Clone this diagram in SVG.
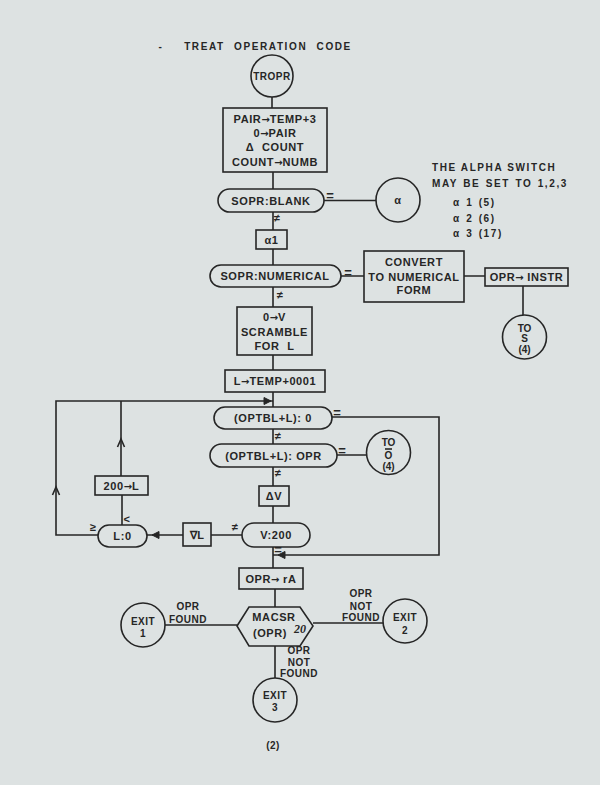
<svg xmlns="http://www.w3.org/2000/svg" width="600" height="785" viewBox="0 0 600 785">
<style>
.bg{fill:#dde2e2}
.s{fill:none;stroke:#262626;stroke-width:1.6}
.n{fill:#dde2e2;stroke:#262626;stroke-width:1.6}
text{font-family:"Liberation Sans",Arial,sans-serif;font-weight:bold;fill:#262626;text-anchor:middle}
.t{font-size:11px;letter-spacing:0.6px}
.m{font-size:10px;letter-spacing:0.5px}
.sm{font-size:10px}
.h{font-size:10px;letter-spacing:1.6px}
.q{font-size:13px}
.l{text-anchor:start}
.ar{font-family:"DejaVu Sans",sans-serif;font-size:10px;letter-spacing:0}
.ah{fill:#262626;stroke:#262626;stroke-width:1}
</style>
<rect class="bg" x="0" y="0" width="600" height="785"/>

<g id="title">
<text class="h" x="161" y="50">-</text>
<text class="h" x="268" y="50" word-spacing="5">TREAT OPERATION CODE</text>
</g>

<g id="connectors">
<path class="s" d="M272 97V108M273 172V189M324 200.5H376M273 212V230M273 249V265M341 276H364M464 276H485M523 286V315M273 287V307M273 355V370M273 392V407M332 417H439V555H273M273 429V444M337 455H367M273 467V486M273 506V523M242 535H211M183 535H147M122 525V495M121 476V401M98 535H56V401H273M273 547V568M275 589V607M165 625H237M313 623H383M275 646V678"/>
<path class="ah" d="M264 397.5L271 401L264 404.5Z"/>
<path class="ah" d="M285 551.5L278 555L285 558.5Z"/>
<path class="ah" d="M159 531.5L152 535L159 538.5Z"/>
<path class="s" d="M117.5 447L121 439L124.5 447M52.5 495L56 487L59.5 495"/>
<text class="q" x="330" y="200">=</text>
<text class="t" x="277" y="222">≠</text>
<text class="q" x="348" y="277">=</text>
<text class="t" x="280" y="299">≠</text>
<text class="q" x="337" y="417">=</text>
<text class="t" x="278" y="440">≠</text>
<text class="q" x="342" y="455">=</text>
<text class="t" x="278" y="477">≠</text>
<text class="t" x="235" y="531">≠</text>
<text class="q" x="278" y="554">=</text>
<text class="t" x="127" y="523">&lt;</text>
<text class="t" x="93" y="531">≥</text>
<text class="m" x="188" y="610">OPR</text>
<text class="m" x="188" y="623">FOUND</text>
<text class="m" x="361" y="597">OPR</text>
<text class="m" x="361" y="610">NOT</text>
<text class="m" x="361" y="621">FOUND</text>
<text class="m" x="299" y="654">OPR</text>
<text class="m" x="299" y="665.5">NOT</text>
<text class="m" x="299" y="676.5">FOUND</text>
</g>

<g id="tropr">
<circle class="n" cx="272" cy="76" r="21"/>
<text class="m" x="272" y="80">TROPR</text>
</g>

<g id="init">
<rect class="n" x="223" y="108" width="104" height="64"/>
<text class="t" x="275" y="123">PAIR<tspan class="ar">→</tspan>TEMP+3</text>
<text class="t" x="275" y="137">0<tspan class="ar">→</tspan>PAIR</text>
<text class="t" x="275" y="151" word-spacing="4">Δ COUNT</text>
<text class="t" x="275" y="166">COUNT<tspan class="ar">→</tspan>NUMB</text>
</g>

<g id="sopr-blank">
<rect class="n" x="218" y="189" width="106" height="23" rx="11.5"/>
<text class="t" x="271" y="204.5">SOPR:BLANK</text>
</g>

<g id="alpha">
<circle class="n" cx="398" cy="200" r="22"/>
<text class="t" x="398" y="204" font-size="13px">α</text>
</g>

<g id="alpha-note">
<text class="h l" x="432" y="171">THE ALPHA SWITCH</text>
<text class="h l" x="432" y="187" word-spacing="1">MAY BE SET TO 1,2,3</text>
<text class="h l" x="453" y="206" word-spacing="1">α 1 (5)</text>
<text class="h l" x="453" y="222" word-spacing="1">α 2 (6)</text>
<text class="h l" x="453" y="237" word-spacing="1">α 3 (17)</text>
</g>

<g id="alpha1">
<rect class="n" x="256" y="230" width="31" height="19"/>
<text class="t" x="271.5" y="243.5">α1</text>
</g>

<g id="sopr-numerical">
<rect class="n" x="210" y="265" width="131" height="22" rx="11"/>
<text class="t" x="275" y="280">SOPR:NUMERICAL</text>
</g>

<g id="convert">
<rect class="n" x="364" y="251" width="100" height="51"/>
<text class="t" x="414" y="265.5">CONVERT</text>
<text class="t" x="414" y="280.5">TO NUMERICAL</text>
<text class="t" x="414" y="293.5">FORM</text>
</g>

<g id="opr-instr">
<rect class="n" x="485" y="268" width="83" height="18"/>
<text class="t" x="526.5" y="281">OPR<tspan class="ar">→</tspan> INSTR</text>
</g>

<g id="to-s4">
<circle class="n" cx="524.5" cy="337" r="22"/>
<text class="sm" x="524.5" y="332">TO</text>
<text class="sm" x="524.5" y="342">S</text>
<text class="sm" x="524.5" y="353">(4)</text>
</g>

<g id="scramble">
<rect class="n" x="237" y="307" width="75" height="48"/>
<text class="t" x="274.5" y="320.5">0<tspan class="ar">→</tspan>V</text>
<text class="t" x="274.5" y="336">SCRAMBLE</text>
<text class="t" x="274.5" y="349.5" word-spacing="4">FOR L</text>
</g>

<g id="l-temp">
<rect class="n" x="225" y="370" width="100" height="22"/>
<text class="t" x="275" y="385">L<tspan class="ar">→</tspan>TEMP+0001</text>
</g>

<g id="optbl-0">
<rect class="n" x="214" y="407" width="118" height="22" rx="11"/>
<text class="t" x="273" y="422">(OPTBL+L): 0</text>
</g>

<g id="optbl-opr">
<rect class="n" x="210" y="444" width="127" height="23" rx="11.5"/>
<text class="t" x="273.5" y="459.5">(OPTBL+L): OPR</text>
</g>

<g id="to-o4">
<circle class="n" cx="388.5" cy="452.5" r="22"/>
<text class="sm" x="388.5" y="445.5">TO</text>
<text class="sm" x="388.5" y="458.5">O</text>
<path class="s" d="M385 449H392" stroke-width="1.2"/>
<text class="sm" x="388.5" y="469.5">(4)</text>
</g>

<g id="delta-v">
<rect class="n" x="259" y="486" width="30" height="20"/>
<text class="t" x="274" y="500">ΔV</text>
</g>

<g id="v-200">
<rect class="n" x="242" y="523" width="68" height="24" rx="12"/>
<text class="t" x="276" y="539">V:200</text>
</g>

<g id="nabla-l">
<rect class="n" x="183" y="523" width="28" height="23"/>
<text class="t" x="197" y="539">∇L</text>
</g>

<g id="l-0">
<rect class="n" x="98" y="525" width="49" height="22" rx="11"/>
<text class="t" x="122.5" y="540">L:0</text>
</g>

<g id="l-200">
<rect class="n" x="95" y="476" width="53" height="19"/>
<text class="t" x="121.5" y="490">200<tspan class="ar">→</tspan>L</text>
</g>

<g id="opr-ra">
<rect class="n" x="239" y="568" width="64" height="21"/>
<text class="t" x="271" y="583">OPR<tspan class="ar">→</tspan> rA</text>
</g>

<g id="macsr">
<polygon class="n" points="237,626 249,607 300,607 313,626 300,646 249,646"/>
<text class="t" x="274" y="621">MACSR</text>
<text class="t" x="270" y="637">(OPR)</text>
<text x="300" y="633" style="font-family:'Liberation Serif',serif;font-style:italic;font-size:12px">20</text>
</g>

<g id="exit1">
<circle class="n" cx="143" cy="625" r="22"/>
<text class="m" x="143" y="624.5">EXIT</text>
<text class="m" x="143" y="637">1</text>
</g>

<g id="exit2">
<circle class="n" cx="405" cy="621" r="22"/>
<text class="m" x="405" y="620.5">EXIT</text>
<text class="m" x="405" y="634">2</text>
</g>

<g id="exit3">
<circle class="n" cx="275" cy="700" r="22"/>
<text class="m" x="275" y="699">EXIT</text>
<text class="m" x="275" y="711">3</text>
</g>

<g id="page">
<text class="m" x="273" y="749">(2)</text>
</g>
</svg>
